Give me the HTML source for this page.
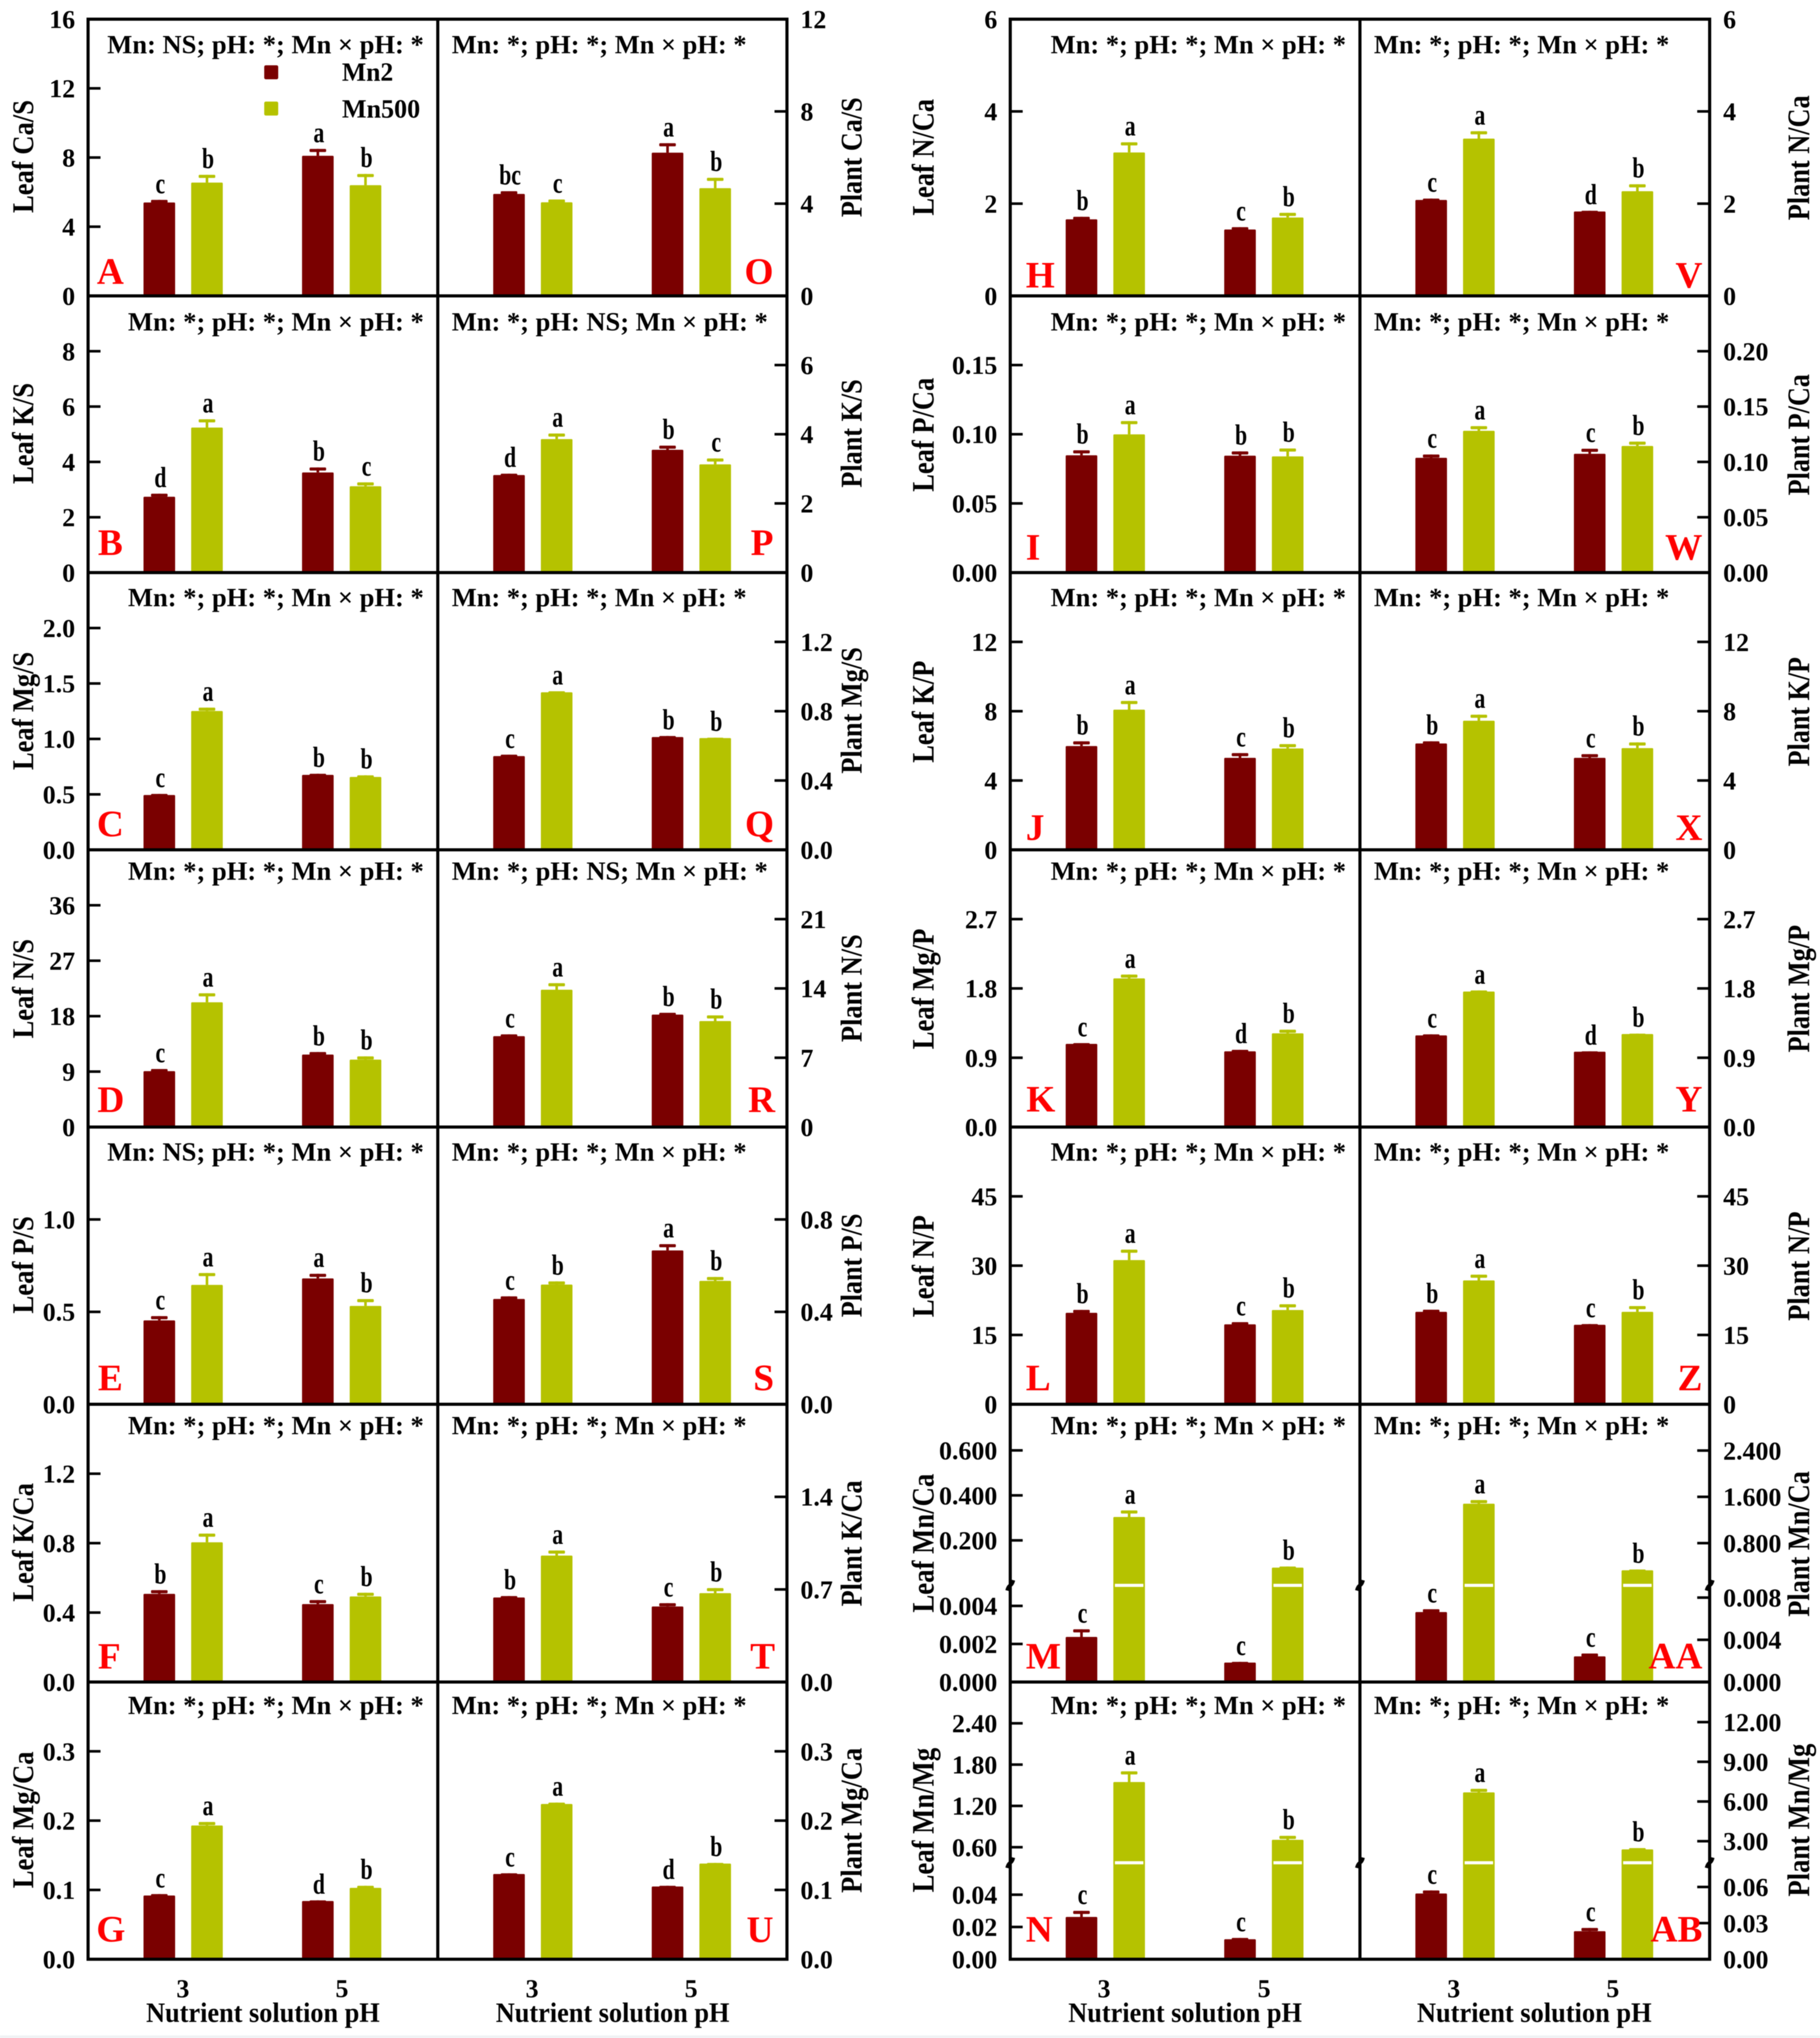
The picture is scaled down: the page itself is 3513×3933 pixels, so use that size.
<!DOCTYPE html>
<html lang="en">
<head>
<meta charset="utf-8">
<title>Leaf and plant nutrient ratios</title>
<style>
html,body{margin:0;padding:0;background:#fff;}
svg{display:block;filter:blur(0.8px);}
text{font-family:"Liberation Serif","Times New Roman",serif;font-weight:bold;fill:#000;}
.ann{font-size:51px;}
.ttl{font-size:58px;}
.ttr{font-size:60px;}
.pl{font-size:72px;fill:#f00;}
.leg{font-size:51px;}
.xt{font-size:50px;text-anchor:middle;}
.xl{font-size:54px;}
.tick-label{font-size:50px;}
.sig{font-size:50px;text-anchor:middle;}
</style>
</head>
<body>
<svg id="chart" xmlns="http://www.w3.org/2000/svg" width="3513" height="3933" viewBox="0 0 3513 3933">
<rect x="0" y="0" width="3513" height="3933" fill="#ffffff"/>
<rect x="0" y="3928" width="3513" height="5" fill="#eff2f4"/>
<g id="panels"></g>

<g>
<text class="ttl" transform="translate(64,411) rotate(-90)" textLength="218" lengthAdjust="spacingAndGlyphs">Leaf Ca/S</text>
<text class="ttl" transform="translate(64,934) rotate(-90)" textLength="195" lengthAdjust="spacingAndGlyphs">Leaf K/S</text>
<text class="ttl" transform="translate(64,1486) rotate(-90)" textLength="228" lengthAdjust="spacingAndGlyphs">Leaf Mg/S</text>
<text class="ttl" transform="translate(64,2004) rotate(-90)" textLength="192" lengthAdjust="spacingAndGlyphs">Leaf N/S</text>
<text class="ttl" transform="translate(64,2535) rotate(-90)" textLength="188" lengthAdjust="spacingAndGlyphs">Leaf P/S</text>
<text class="ttl" transform="translate(64,3091) rotate(-90)" textLength="229" lengthAdjust="spacingAndGlyphs">Leaf K/Ca</text>
<text class="ttl" transform="translate(64,3644) rotate(-90)" textLength="264" lengthAdjust="spacingAndGlyphs">Leaf Mg/Ca</text>

<text class="ttl" transform="translate(1663,419) rotate(-90)" textLength="231" lengthAdjust="spacingAndGlyphs">Plant Ca/S</text>
<text class="ttl" transform="translate(1663,941) rotate(-90)" textLength="209" lengthAdjust="spacingAndGlyphs">Plant K/S</text>
<text class="ttl" transform="translate(1663,1493) rotate(-90)" textLength="244" lengthAdjust="spacingAndGlyphs">Plant Mg/S</text>
<text class="ttl" transform="translate(1663,2011) rotate(-90)" textLength="208" lengthAdjust="spacingAndGlyphs">Plant N/S</text>
<text class="ttl" transform="translate(1663,2542) rotate(-90)" textLength="200" lengthAdjust="spacingAndGlyphs">Plant P/S</text>
<text class="ttl" transform="translate(1663,3100) rotate(-90)" textLength="243" lengthAdjust="spacingAndGlyphs">Plant K/Ca</text>
<text class="ttl" transform="translate(1663,3653) rotate(-90)" textLength="280" lengthAdjust="spacingAndGlyphs">Plant Mg/Ca</text>

<text class="ttr" transform="translate(1802,416) rotate(-90)" textLength="225" lengthAdjust="spacingAndGlyphs">Leaf N/Ca</text>
<text class="ttr" transform="translate(1802,949) rotate(-90)" textLength="220" lengthAdjust="spacingAndGlyphs">Leaf P/Ca</text>
<text class="ttr" transform="translate(1802,1472) rotate(-90)" textLength="197" lengthAdjust="spacingAndGlyphs">Leaf K/P</text>
<text class="ttr" transform="translate(1802,2025) rotate(-90)" textLength="233" lengthAdjust="spacingAndGlyphs">Leaf Mg/P</text>
<text class="ttr" transform="translate(1802,2542) rotate(-90)" textLength="197" lengthAdjust="spacingAndGlyphs">Leaf N/P</text>
<text class="ttr" transform="translate(1802,3112) rotate(-90)" textLength="268" lengthAdjust="spacingAndGlyphs">Leaf Mn/Ca</text>
<text class="ttr" transform="translate(1802,3652) rotate(-90)" textLength="279" lengthAdjust="spacingAndGlyphs">Leaf Mn/Mg</text>

<text class="ttr" transform="translate(3492,425) rotate(-90)" textLength="241" lengthAdjust="spacingAndGlyphs">Plant N/Ca</text>
<text class="ttr" transform="translate(3492,956) rotate(-90)" textLength="234" lengthAdjust="spacingAndGlyphs">Plant P/Ca</text>
<text class="ttr" transform="translate(3492,1479) rotate(-90)" textLength="211" lengthAdjust="spacingAndGlyphs">Plant K/P</text>
<text class="ttr" transform="translate(3492,2031) rotate(-90)" textLength="246" lengthAdjust="spacingAndGlyphs">Plant Mg/P</text>
<text class="ttr" transform="translate(3492,2549) rotate(-90)" textLength="211" lengthAdjust="spacingAndGlyphs">Plant N/P</text>
<text class="ttr" transform="translate(3492,3120) rotate(-90)" textLength="281" lengthAdjust="spacingAndGlyphs">Plant Mn/Ca</text>
<text class="ttr" transform="translate(3492,3660) rotate(-90)" textLength="295" lengthAdjust="spacingAndGlyphs">Plant Mn/Mg</text>
</g>

<g>
<text class="ann" x="207" y="103" textLength="611" lengthAdjust="spacingAndGlyphs">Mn: NS; pH: *; Mn × pH: *</text>
<text class="ann" x="247" y="638" textLength="571" lengthAdjust="spacingAndGlyphs">Mn: *; pH: *; Mn × pH: *</text>
<text class="ann" x="247" y="1170" textLength="571" lengthAdjust="spacingAndGlyphs">Mn: *; pH: *; Mn × pH: *</text>
<text class="ann" x="247" y="1698" textLength="571" lengthAdjust="spacingAndGlyphs">Mn: *; pH: *; Mn × pH: *</text>
<text class="ann" x="207" y="2240" textLength="611" lengthAdjust="spacingAndGlyphs">Mn: NS; pH: *; Mn × pH: *</text>
<text class="ann" x="247" y="2768" textLength="571" lengthAdjust="spacingAndGlyphs">Mn: *; pH: *; Mn × pH: *</text>
<text class="ann" x="247" y="3308" textLength="571" lengthAdjust="spacingAndGlyphs">Mn: *; pH: *; Mn × pH: *</text>

<text class="ann" x="872" y="103" textLength="569" lengthAdjust="spacingAndGlyphs">Mn: *; pH: *; Mn × pH: *</text>
<text class="ann" x="872" y="638" textLength="610" lengthAdjust="spacingAndGlyphs">Mn: *; pH: NS; Mn × pH: *</text>
<text class="ann" x="872" y="1170" textLength="569" lengthAdjust="spacingAndGlyphs">Mn: *; pH: *; Mn × pH: *</text>
<text class="ann" x="872" y="1698" textLength="610" lengthAdjust="spacingAndGlyphs">Mn: *; pH: NS; Mn × pH: *</text>
<text class="ann" x="872" y="2240" textLength="569" lengthAdjust="spacingAndGlyphs">Mn: *; pH: *; Mn × pH: *</text>
<text class="ann" x="872" y="2768" textLength="569" lengthAdjust="spacingAndGlyphs">Mn: *; pH: *; Mn × pH: *</text>
<text class="ann" x="872" y="3308" textLength="569" lengthAdjust="spacingAndGlyphs">Mn: *; pH: *; Mn × pH: *</text>

<text class="ann" x="2028" y="103" textLength="570" lengthAdjust="spacingAndGlyphs">Mn: *; pH: *; Mn × pH: *</text>
<text class="ann" x="2028" y="638" textLength="570" lengthAdjust="spacingAndGlyphs">Mn: *; pH: *; Mn × pH: *</text>
<text class="ann" x="2028" y="1170" textLength="570" lengthAdjust="spacingAndGlyphs">Mn: *; pH: *; Mn × pH: *</text>
<text class="ann" x="2028" y="1698" textLength="570" lengthAdjust="spacingAndGlyphs">Mn: *; pH: *; Mn × pH: *</text>
<text class="ann" x="2028" y="2240" textLength="570" lengthAdjust="spacingAndGlyphs">Mn: *; pH: *; Mn × pH: *</text>
<text class="ann" x="2028" y="2768" textLength="570" lengthAdjust="spacingAndGlyphs">Mn: *; pH: *; Mn × pH: *</text>
<text class="ann" x="2028" y="3308" textLength="570" lengthAdjust="spacingAndGlyphs">Mn: *; pH: *; Mn × pH: *</text>

<text class="ann" x="2652" y="103" textLength="570" lengthAdjust="spacingAndGlyphs">Mn: *; pH: *; Mn × pH: *</text>
<text class="ann" x="2652" y="638" textLength="570" lengthAdjust="spacingAndGlyphs">Mn: *; pH: *; Mn × pH: *</text>
<text class="ann" x="2652" y="1170" textLength="570" lengthAdjust="spacingAndGlyphs">Mn: *; pH: *; Mn × pH: *</text>
<text class="ann" x="2652" y="1698" textLength="570" lengthAdjust="spacingAndGlyphs">Mn: *; pH: *; Mn × pH: *</text>
<text class="ann" x="2652" y="2240" textLength="570" lengthAdjust="spacingAndGlyphs">Mn: *; pH: *; Mn × pH: *</text>
<text class="ann" x="2652" y="2768" textLength="570" lengthAdjust="spacingAndGlyphs">Mn: *; pH: *; Mn × pH: *</text>
<text class="ann" x="2652" y="3308" textLength="570" lengthAdjust="spacingAndGlyphs">Mn: *; pH: *; Mn × pH: *</text>
</g>

<g>
<text class="pl" x="187" y="548">A</text>
<text class="pl" x="189" y="1071">B</text>
<text class="pl" x="187" y="1614">C</text>
<text class="pl" x="188" y="2146">D</text>
<text class="pl" x="189" y="2683">E</text>
<text class="pl" x="189" y="3220">F</text>
<text class="pl" x="186" y="3747">G</text>
<text class="pl" x="1493" y="548" text-anchor="end">O</text>
<text class="pl" x="1493" y="1071" text-anchor="end">P</text>
<text class="pl" x="1494" y="1614" text-anchor="end">Q</text>
<text class="pl" x="1496" y="2146" text-anchor="end">R</text>
<text class="pl" x="1494" y="2683" text-anchor="end">S</text>
<text class="pl" x="1496" y="3220" text-anchor="end">T</text>
<text class="pl" x="1493" y="3748" text-anchor="end">U</text>
<text class="pl" x="1980" y="555">H</text>
<text class="pl" x="1980" y="1080">I</text>
<text class="pl" x="1980" y="1621">J</text>
<text class="pl" x="1981" y="2145">K</text>
<text class="pl" x="1980" y="2683">L</text>
<text class="pl" x="1980" y="3220">M</text>
<text class="pl" x="1980" y="3747">N</text>
<text class="pl" x="3286" y="555" text-anchor="end">V</text>
<text class="pl" x="3286" y="1080" text-anchor="end">W</text>
<text class="pl" x="3286" y="1621" text-anchor="end">X</text>
<text class="pl" x="3286" y="2145" text-anchor="end">Y</text>
<text class="pl" x="3286" y="2683" text-anchor="end">Z</text>
<text class="pl" x="3286" y="3220" text-anchor="end">AA</text>
<text class="pl" x="3286" y="3747" text-anchor="end">AB</text>
</g>

<g>
<rect x="510" y="126" width="27" height="27" rx="3" fill="#7a0000"/>
<text class="leg" x="660" y="156" textLength="99" lengthAdjust="spacingAndGlyphs">Mn2</text>
<rect x="510" y="196" width="27" height="27" rx="3" fill="#b5c200"/>
<text class="leg" x="660" y="227" textLength="151" lengthAdjust="spacingAndGlyphs">Mn500</text>
</g>

<g>
<text class="xt" x="353" y="3854">3</text>
<text class="xt" x="660" y="3854">5</text>
<text class="xt" x="1027" y="3854">3</text>
<text class="xt" x="1334" y="3854">5</text>
<text class="xt" x="2131" y="3854">3</text>
<text class="xt" x="2440" y="3854">5</text>
<text class="xt" x="2806" y="3854">3</text>
<text class="xt" x="3113" y="3854">5</text>
<text class="xl" x="282" y="3902" textLength="451" lengthAdjust="spacingAndGlyphs">Nutrient solution pH</text>
<text class="xl" x="957" y="3902" textLength="451" lengthAdjust="spacingAndGlyphs">Nutrient solution pH</text>
<text class="xl" x="2062" y="3902" textLength="451" lengthAdjust="spacingAndGlyphs">Nutrient solution pH</text>
<text class="xl" x="2735" y="3902" textLength="453" lengthAdjust="spacingAndGlyphs">Nutrient solution pH</text>
</g>
</svg>

<script>
// ---- chart data (one entry per panel; each pair is [pH 3, pH 5]) ----
const panelIds = ['A','B','C','D','E','F','G','O','P','Q','R','S','T','U','H','I','J','K','L','M','N','V','W','X','Y','Z','AA','AB'];
const yMaxValues = [16,10,2.5,45,1.5,1.6,0.4, 12,8,1.6,28,1.2,2.1,0.4, 6,0.2,16,3.6,60,0.805,3, 6,0.25,16,3.6,60,3.2,15.03];
const mn2Values = [
  [5.4,8.1],[2.74,3.62],[0.494,0.676],[9.07,11.76],[0.454,0.681],[0.508,0.449],[0.092,0.084],
  [4.42,6.21],[2.82,3.55],[0.541,0.651],[9.18,11.36],[0.456,0.666],[0.639,0.571],[0.123,0.105],
  [1.66,1.44],[0.0848,0.0845],[5.99,5.31],[1.08,0.983],[19.8,17.3],[0.00237,0.00102],[0.0262,0.0124],
  [2.08,1.83],[0.1037,0.1073],[6.14,5.31],[1.19,0.978],[20,17.2],[0.00663,0.00243],[0.0546,0.0233]
];
const mn500Values = [
  [6.55,6.4],[5.24,3.12],[1.252,0.657],[20.25,10.94],[0.646,0.532],[0.805,0.493],[0.193,0.103],
  [4.06,4.67],[3.86,3.13],[0.909,0.645],[13.87,10.7],[0.518,0.534],[0.956,0.672],[0.224,0.138],
  [3.11,1.7],[0.0999,0.084],[8.09,5.85],[1.93,1.217],[31.2,20.4],[0.304,0.0787],[1.547,0.708],
  [3.41,2.27],[0.1281,0.1144],[7.45,5.87],[1.76,1.208],[26.8,20],[1.481,0.331],[6.69,2.38]
];
const mn2Errors = [
  [0.15,0.4],[0.11,0.18],[0.01,0.01],[0.35,0.41],[0.023,0.025],[0.021,0.023],[0.002,0.001],
  [0.12,0.41],[0.04,0.12],[0.008,0.006],[0.18,0.18],[0.011,0.027],[0.011,0.025],[0.001,0.001],
  [0.055,0.05],[0.0036,0.0031],[0.27,0.27],[0.01,0.02],[0.62,0.47],[0.0004,0.00004],[0.0038,0.0008],
  [0.03,0.015],[0.003,0.0046],[0.12,0.21],[0.014,0.005],[0.47,0.16],[0.00027,0.00027],[0.0025,0.0027]
];
const mn500Errors = [
  [0.45,0.65],[0.3,0.14],[0.03,0.015],[1.46,0.53],[0.064,0.037],[0.05,0.021],[0.005,0.003],
  [0.12,0.45],[0.16,0.17],[0.006,0.002],[0.66,0.58],[0.014,0.017],[0.038,0.038],[0.002,0.001],
  [0.22,0.1],[0.0096,0.0057],[0.5,0.25],[0.05,0.047],[2.26,1.25],[0.029,0.005],[0.155,0.057],
  [0.16,0.15],[0.0042,0.0039],[0.35,0.33],[0.014,0.005],[1.25,1.25],[0.063,0.013],[0.27,0.1]
];
const mn2Letters = [
  ['c','a'],['d','b'],['c','b'],['c','b'],['c','a'],['b','c'],['c','d'],
  ['bc','a'],['d','b'],['c','b'],['c','b'],['c','a'],['b','c'],['c','d'],
  ['b','c'],['b','b'],['b','c'],['c','d'],['b','c'],['c','c'],['c','c'],
  ['c','d'],['c','c'],['b','c'],['c','d'],['b','c'],['c','c'],['c','c']
];
const mn500Letters = [
  ['b','b'],['a','c'],['a','b'],['a','b'],['a','b'],['a','b'],['a','b'],
  ['c','b'],['a','c'],['a','b'],['a','b'],['b','b'],['a','b'],['a','b'],
  ['a','b'],['a','b'],['a','b'],['a','b'],['a','b'],['a','b'],['a','b'],
  ['a','b'],['a','b'],['a','b'],['a','b'],['a','b'],['a','b'],['a','b']
];
const tickLabels = [
  ['0','4','8','12','16'],['0','2','4','6','8'],['0.0','0.5','1.0','1.5','2.0'],['0','9','18','27','36'],['0.0','0.5','1.0'],['0.0','0.4','0.8','1.2'],['0.0','0.1','0.2','0.3'],
  ['0','4','8','12'],['0','2','4','6'],['0.0','0.4','0.8','1.2'],['0','7','14','21'],['0.0','0.4','0.8'],['0.0','0.7','1.4'],['0.0','0.1','0.2','0.3'],
  ['0','2','4','6'],['0.00','0.05','0.10','0.15'],['0','4','8','12'],['0.0','0.9','1.8','2.7'],['0','15','30','45'],['0.000','0.002','0.004','0.200','0.400','0.600'],['0.00','0.02','0.04','0.60','1.20','1.80','2.40'],
  ['0','2','4','6'],['0.00','0.05','0.10','0.15','0.20'],['0','4','8','12'],['0.0','0.9','1.8','2.7'],['0','15','30','45'],['0.000','0.004','0.008','0.800','1.600','2.400'],['0.00','0.03','0.06','3.00','6.00','9.00','12.00']
];
// Broken y axes: value where the lower segment ends, value where the upper segment starts.
const brokenLowerMax = {M:0.00508, AA:0.00916, N:0.0598, AB:0.0801};
const brokenUpperMin = {M:0, AA:0.07, N:0.374, AB:1.37};

// ---- layout and drawing ----
const NS = 'http://www.w3.org/2000/svg';
const rowEdges = [37,571,1105,1640,2175,2710,3246,3781];
const colEdges = [[170,845],[845,1519],[1950,2625],[2625,3300]];
const barOffsets = [107,199,413,505];
const BAR_W = 61;
const CAP_W = 32;
const BREAK_FRAC = 0.348;
const MN2_COLOR = '#7a0000';
const MN500_COLOR = '#b5c200';
const root = document.getElementById('panels');

function make(tag, attrs, parent) {
  const el = document.createElementNS(NS, tag);
  for (const k in attrs) el.setAttribute(k, attrs[k]);
  parent.appendChild(el);
  return el;
}

function makeYScale(i, top, bottom) {
  const id = panelIds[i];
  const max = yMaxValues[i];
  if (brokenLowerMax[id] === undefined) {
    return v => bottom - (v / max) * (bottom - top);
  }
  const breakY = bottom - BREAK_FRAC * (bottom - top);
  const lowMax = brokenLowerMax[id];
  const upMin = brokenUpperMin[id];
  return v => v <= lowMax
    ? bottom - (v / lowMax) * (bottom - breakY)
    : breakY - ((v - upMin) / (max - upMin)) * (breakY - top);
}

panelIds.forEach((id, i) => {
  const col = Math.floor(i / 7);
  const row = i % 7;
  const left = colEdges[col][0];
  const right = colEdges[col][1];
  const top = rowEdges[row];
  const bottom = rowEdges[row + 1];
  const y = makeYScale(i, top, bottom);
  const rightAxis = col % 2 === 1;
  const lc = id.toLowerCase();

  const g = make('g', {}, root);
  
  

  const series = [
    {name:'mn2', vals:mn2Values[i], errs:mn2Errors[i], lets:mn2Letters[i], color:MN2_COLOR, slot:[0,2]},
    {name:'mn500', vals:mn500Values[i], errs:mn500Errors[i], lets:mn500Letters[i], color:MN500_COLOR, slot:[1,3]}
  ];
  series.forEach(s => {
    s.vals.forEach((v, k) => {
      const x = left + barOffsets[s.slot[k]];
      const yTop = y(v);
      const yErr = y(v + s.errs[k]);
      const cx = x + BAR_W / 2;
      const ph = k === 0 ? '3' : '5';

      const bar = make('rect', {x:x, y:yTop, width:BAR_W, height:bottom - yTop, fill:s.color, rx:2}, g);
      
      

      const stem = make('rect', {x:cx - 2.5, y:yErr, width:5, height:Math.max(0, yTop - yErr), fill:s.color}, g);
      
      

      const cap = make('rect', {x:cx - CAP_W / 2, y:yErr, width:CAP_W, height:6, fill:s.color, rx:2}, g);
      
      

      if (brokenLowerMax[id] !== undefined && v > brokenLowerMax[id]) {
        const breakY = bottom - BREAK_FRAC * (bottom - top);
        const slit = make('rect', {x:x + 3, y:breakY - 3, width:BAR_W - 6, height:6, fill:'#ffffff'}, g);
        
        
      }

      const sig = make('text', {class:'sig', transform:'translate(' + (cx + 2) + ',' + (yErr - 13) + ') scale(0.84,1.12)'}, g);
      
      
      sig.textContent = s.lets[k];
    });
  });

  const frame = make('rect', {x:left, y:top, width:right - left, height:bottom - top, fill:'none', stroke:'#000', 'stroke-width':6}, g);
  
  

  tickLabels[i].forEach(lbl => {
    const v = parseFloat(lbl);
    const ty = y(v);
    if (v > 0 && ty - top > 3) {
      const tk = make('rect', {x:rightAxis ? right - 24 : left, y:ty - 2.5, width:24, height:5, fill:'#000'}, g);
      
      
    }
    const t = make('text', {class:'tick-label', x:rightAxis ? right + 26 : left - 25, y:ty + 17, 'text-anchor':rightAxis ? 'start' : 'end'}, g);
    
    
    t.textContent = lbl;
  });

  if (brokenLowerMax[id] !== undefined) {
    const by = bottom - BREAK_FRAC * (bottom - top);
    const marks = rightAxis ? [right] : [left, right];
    marks.forEach(mx => {
      const m = make('path', {d:'M' + (mx - 6) + ' ' + (by + 10) + 'q2 -8 6 -10t6 -10', fill:'none', stroke:'#000', 'stroke-width':7}, g);
      
      
    });
  }
});
</script>
</body>
</html>
